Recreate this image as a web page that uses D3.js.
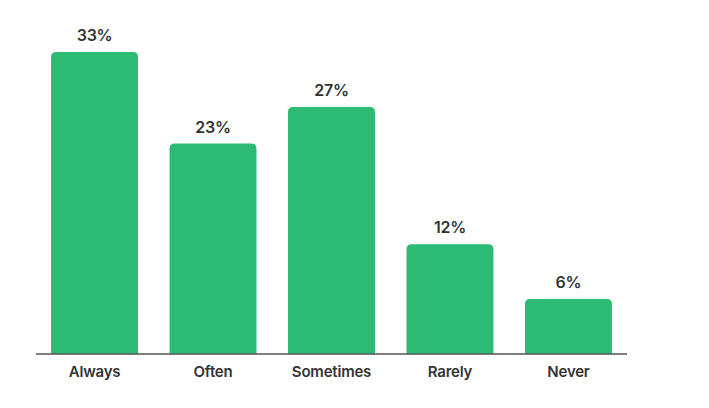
<!DOCTYPE html>
<html>
<head>
<meta charset="utf-8">
<script src="https://cdn.jsdelivr.net/npm/d3@7"></script>
<style>
  html, body { margin: 0; padding: 0; background: #ffffff; }
  svg { display: block; }
  text { font-family: Inter, "Liberation Sans", Arial, sans-serif; }
</style>
</head>
<body>
<svg id="chart" width="709" height="408"></svg>
<script>
const categories = ["Always", "Often", "Sometimes", "Rarely", "Never"];
const values = [33, 23, 27, 12, 6];
const valueLabels = ["33%", "23%", "27%", "12%", "6%"];

const svg = d3.select("#chart");
const x = d3.scaleBand().domain(categories).range([36, 627]).paddingInner(0.266).paddingOuter(0.127);
const y = d3.scaleLinear().domain([0, 33]).range([354, 52]);

const r = 5;
function topRounded(x0, y0, w, h) {
  const rr = Math.min(r, h / 2, w / 2);
  return `M${x0},${y0 + h}V${y0 + rr}Q${x0},${y0} ${x0 + rr},${y0}H${x0 + w - rr}Q${x0 + w},${y0} ${x0 + w},${y0 + rr}V${y0 + h}Z`;
}

const data = categories.map((c, i) => ({ c, v: values[i], l: valueLabels[i] }));

svg.append("g").selectAll("path").data(data).join("path")
  .attr("d", d => topRounded(x(d.c), y(d.v), x.bandwidth(), y(0) - y(d.v)))
  .attr("fill", "#2dba72");

svg.append("line")
  .attr("x1", 36).attr("x2", 627)
  .attr("y1", y(0)).attr("y2", y(0))
  .attr("stroke", "#555").attr("stroke-width", 1.5);

svg.append("g").selectAll("text").data(data).join("text")
  .attr("x", d => x(d.c) + x.bandwidth() / 2)
  .attr("y", d => y(d.v) - 11)
  .attr("text-anchor", "middle")
  .attr("font-size", 16)
  .attr("font-weight", 600)
  .attr("letter-spacing", -0.3)
  .attr("fill", "#333")
  .text(d => d.l);

const axis = d3.axisBottom(x).tickSize(0).tickPadding(0);
const g = svg.append("g").attr("transform", `translate(0,${y(0)})`).call(axis);
g.select(".domain").remove();
g.selectAll("text")
  .attr("y", 23).attr("dy", 0)
  .attr("font-size", 15)
  .attr("font-weight", 600)
  .attr("letter-spacing", -0.2)
  .attr("font-family", "Inter, 'Liberation Sans', Arial, sans-serif")
  .attr("fill", "#333");
</script>
</body>
</html>
